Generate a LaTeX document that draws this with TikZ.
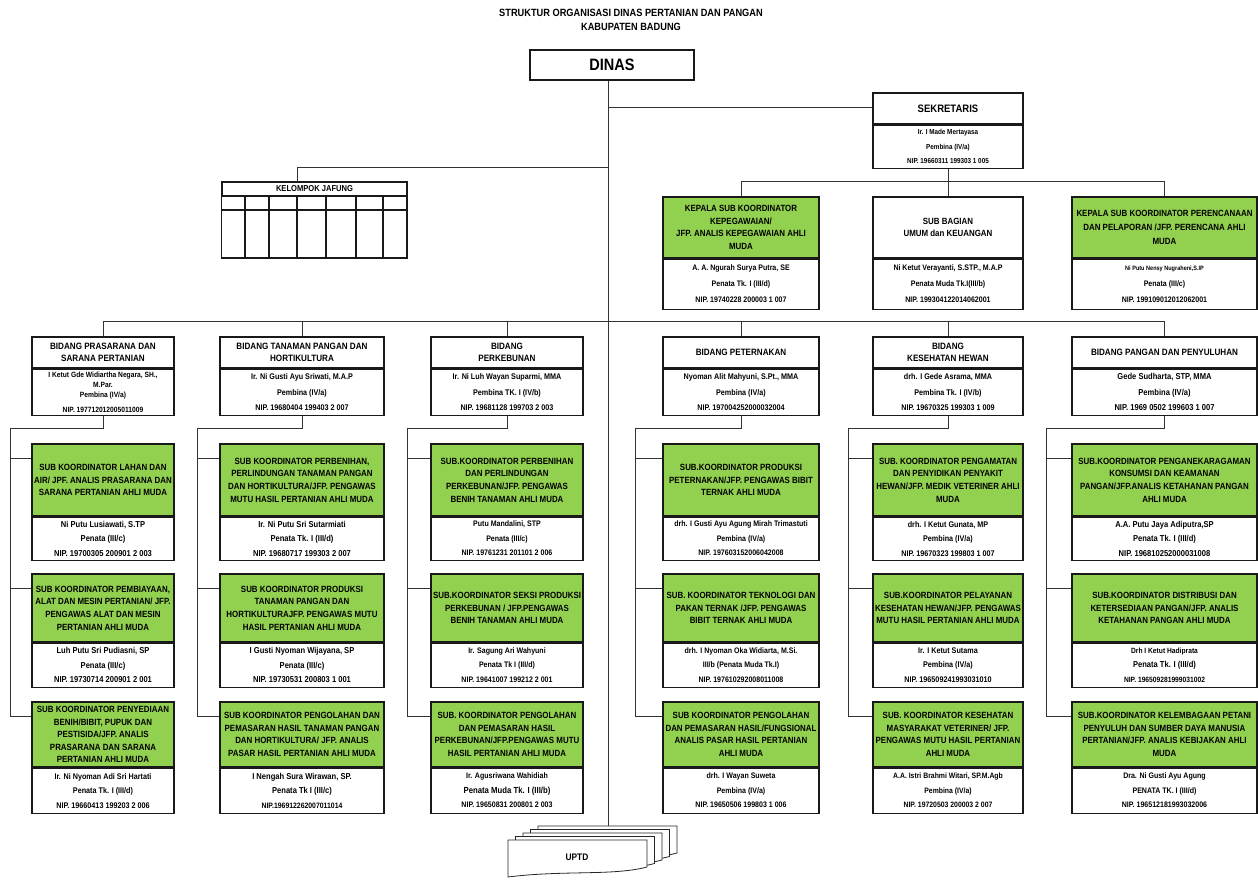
\documentclass[tikz,border=0pt]{standalone}
\usepackage{fontspec}
\setmainfont{Liberation Sans}[FakeStretch=0.88]
\usetikzlibrary{calc}
\definecolor{jgreen}{RGB}{146,208,80}
\newcommand\fz[2]{\fontsize{#1}{#2}\selectfont\bfseries}
\begin{document}
\begin{tikzpicture}[x=1pt,y=-1pt,
  conn/.style={draw=black!80,line width=1pt},
  frame/.style={draw=black!90,line width=1.1pt},
  box/.style={draw=black!90,line width=1.1pt,inner sep=0pt,align=center},
  gbox/.style={box,fill=jgreen,font=\fz{9}{12.6}},
  wbox/.style={box,fill=white,anchor=north,font=\fz{8.6}{14.5}},
  cw1/.style={minimum width=142pt},cw2/.style={minimum width=164pt},
  cw3/.style={minimum width=152pt},cw4/.style={minimum width=156pt},
  cw5/.style={minimum width=150pt},cw6/.style={minimum width=185pt},
  rh1/.style={minimum height=72pt},rb1/.style={minimum height=43pt},
  rh2/.style={minimum height=68pt},rb2/.style={minimum height=44pt},
  rh3/.style={minimum height=65pt},rb3/.style={minimum height=45pt},
  bh/.style={box,fill=white,minimum height=31pt,font=\fz{9.2}{12}},
  bb/.style={wbox,minimum height=46pt,font=\fz{8.2}{15.5}}
]
\useasboundingbox (0,0) rectangle (1258,879);

% title
\node[font=\fz{10.5}{14}] (t1) at (631,13) {STRUKTUR ORGANISASI DINAS PERTANIAN DAN PANGAN};
\node[font=\fz{10.5}{14}] (t2) at (631,27) {KABUPATEN BADUNG};

% dinas
\node[box,minimum width=164pt,minimum height=30pt,font=\fz{16.5}{18}] (dinas) at (612,65) {DINAS};

% trunk coordinates
\coordinate (uptdtop) at (608,826);
\coordinate (j1) at (608,107);
\coordinate (j2) at (608,167);
\coordinate (kjtop) at (297,182);

% sekretaris
\node[box,fill=white,minimum width=150pt,minimum height=31pt,font=\fz{10.8}{13}] (skh) at (948,108.5) {SEKRETARIS};
\node[wbox,minimum width=150pt,minimum height=43pt,font=\fz{7.2}{14.5}] (skb) at (skh.south) {Ir. I Made Mertayasa\\Pembina (IV/a)\\NIP. 19660311 199303 1 005};

% kelompok jafung
\node[box,minimum width=185pt,minimum height=14pt,font=\fz{8.6}{10}] (kj) at (314.5,189) {KELOMPOK JAFUNG};
\draw[frame] (kj.south west) rectangle (407,258);
\draw[frame] (222,210) -- (407,210);
\foreach \x in {245,269,297,326,356,383} \draw[frame] (\x,196) -- (\x,258);

% row A
\node[gbox,cw4,minimum height=61pt] (ah1) at (741,227.5) {KEPALA SUB KOORDINATOR\\KEPEGAWAIAN/\\JFP. ANALIS KEPEGAWAIAN AHLI\\MUDA};
\node[wbox,cw4,minimum height=50pt,font=\fz{8}{16}] (ab1) at (ah1.south) {A. A. Ngurah Surya Putra, SE\\Penata Tk. I (III/d)\\NIP. 19740228 200003 1 007};
\node[box,fill=white,cw5,minimum height=61pt,font=\fz{9}{12.6}] (ah2) at (948,227.5) {SUB BAGIAN\\UMUM dan KEUANGAN};
\node[wbox,cw5,minimum height=50pt,font=\fz{8}{16}] (ab2) at (ah2.south) {Ni Ketut Verayanti, S.STP., M.A.P\\Penata Muda Tk.I(III/b)\\NIP. 199304122014062001};
\node[gbox,cw6,minimum height=61pt,font=\fz{9}{14}] (ah3) at (1164.5,227.5) {KEPALA SUB KOORDINATOR PERENCANAAN\\DAN PELAPORAN /JFP. PERENCANA AHLI\\MUDA};
\node[wbox,cw6,minimum height=50pt,font=\fz{8}{16}] (ab3) at (ah3.south) {{\fontsize{6.3}{16}\selectfont Ni Putu Nensy Nugraheni,S.IP}\\Penata (III/c)\\NIP. 199109012012062001};

% bidang
\node[bh,cw1] (bh1) at (103,352.5) {BIDANG PRASARANA DAN\\SARANA PERTANIAN};
\node[bb,cw1,font=\fz{7.6}{10}] (bb1) at (bh1.south) {I Ketut Gde Widiartha Negara, SH.,\\M.Par.\\Pembina (IV/a)\\[5pt]NIP. 197712012005011009};
\node[bh,cw2] (bh2) at (302,352.5) {BIDANG TANAMAN PANGAN DAN\\HORTIKULTURA};
\node[bb,cw2] (bb2) at (bh2.south) {Ir. Ni Gusti Ayu Sriwati, M.A.P\\Pembina (IV/a)\\NIP. 19680404 199403 2 007};
\node[bh,cw3] (bh3) at (507,352.5) {BIDANG\\PERKEBUNAN};
\node[bb,cw3] (bb3) at (bh3.south) {Ir. Ni Luh Wayan Suparmi, MMA\\Pembina TK. I (IV/b)\\NIP. 19681128 199703 2 003};
\node[bh,cw4] (bh4) at (741,352.5) {BIDANG PETERNAKAN};
\node[bb,cw4] (bb4) at (bh4.south) {Nyoman Alit Mahyuni, S.Pt., MMA\\Pembina (IV/a)\\NIP. 197004252000032004};
\node[bh,cw5] (bh5) at (948,352.5) {BIDANG\\KESEHATAN HEWAN};
\node[bb,cw5] (bb5) at (bh5.south) {drh. I Gede Asrama, MMA\\Pembina Tk. I (IV/b)\\NIP. 19670325 199303 1 009};
\node[bh,cw6] (bh6) at (1164.5,352.5) {BIDANG PANGAN DAN PENYULUHAN};
\node[bb,cw6,font=\fz{8.6}{15.5}] (bb6) at (bh6.south) {Gede Sudharta, STP, MMA\\Pembina (IV/a)\\NIP. 1969 0502 199603 1 007};

% column 1
\node[gbox,cw1,rh1] (sh11) at (103,480) {SUB KOORDINATOR LAHAN DAN\\AIR/ JPF. ANALIS PRASARANA DAN\\SARANA PERTANIAN AHLI MUDA};
\node[wbox,cw1,rb1] (sb11) at (sh11.south) {Ni Putu Lusiawati, S.TP\\Penata (III/c)\\NIP. 19700305 200901 2 003};
\node[gbox,cw1,rh2] (sh12) at (103,608) {SUB KOORDINATOR PEMBIAYAAN,\\ALAT DAN MESIN PERTANIAN/ JFP.\\PENGAWAS ALAT DAN MESIN\\PERTANIAN AHLI MUDA};
\node[wbox,cw1,rb2] (sb12) at (sh12.south) {Luh Putu Sri Pudiasni, SP\\Penata (III/c)\\NIP. 19730714 200901 2 001};
\node[gbox,cw1,rh3] (sh13) at (103,734.5) {SUB KOORDINATOR PENYEDIAAN\\BENIH/BIBIT, PUPUK DAN\\PESTISIDA/JFP. ANALIS\\PRASARANA DAN SARANA\\PERTANIAN AHLI MUDA};
\node[wbox,cw1,rb3,font=\fz{8.2}{14.5}] (sb13) at (sh13.south) {Ir. Ni Nyoman Adi Sri Hartati\\Penata Tk. I (III/d)\\NIP. 19660413 199203 2 006};

% column 2
\node[gbox,cw2,rh1] (sh21) at (302,480) {SUB KOORDINATOR PERBENIHAN,\\PERLINDUNGAN TANAMAN PANGAN\\DAN HORTIKULTURA/JFP. PENGAWAS\\MUTU HASIL PERTANIAN AHLI MUDA};
\node[wbox,cw2,rb1] (sb21) at (sh21.south) {Ir. Ni Putu Sri Sutarmiati\\Penata Tk. I (III/d)\\NIP. 19680717 199303 2 007};
\node[gbox,cw2,rh2] (sh22) at (302,608) {SUB KOORDINATOR PRODUKSI\\TANAMAN PANGAN DAN\\HORTIKULTURAJFP. PENGAWAS MUTU\\HASIL PERTANIAN AHLI MUDA};
\node[wbox,cw2,rb2] (sb22) at (sh22.south) {I Gusti Nyoman Wijayana, SP\\Penata (III/c)\\NIP. 19730531 200803 1 001};
\node[gbox,cw2,rh3] (sh23) at (302,734.5) {SUB KOORDINATOR PENGOLAHAN DAN\\PEMASARAN HASIL TANAMAN PANGAN\\DAN HORTIKULTURA/ JFP. ANALIS\\PASAR HASIL PERTANIAN AHLI MUDA};
\node[wbox,cw2,rb3] (sb23) at (sh23.south) {I Nengah Sura Wirawan, SP.\\Penata Tk I (III/c)\\{\fontsize{7.8}{14.5}\selectfont NIP.196912262007011014}};

% column 3
\node[gbox,cw3,rh1] (sh31) at (507,480) {SUB.KOORDINATOR PERBENIHAN\\DAN PERLINDUNGAN\\PERKEBUNAN/JFP. PENGAWAS\\BENIH TANAMAN AHLI MUDA};
\node[wbox,cw3,rb1,font=\fz{8}{14.5}] (sb31) at (sh31.south) {Putu Mandalini, STP\\Penata (III/c)\\NIP. 19761231 201101 2 006};
\node[gbox,cw3,rh2] (sh32) at (507,608) {SUB.KOORDINATOR SEKSI PRODUKSI\\PERKEBUNAN / JFP.PENGAWAS\\BENIH TANAMAN AHLI MUDA};
\node[wbox,cw3,rb2,font=\fz{8}{14.5}] (sb32) at (sh32.south) {Ir. Sagung Ari Wahyuni\\Penata Tk I (III/d)\\NIP. 19641007 199212 2 001};
\node[gbox,cw3,rh3] (sh33) at (507,734.5) {SUB. KOORDINATOR PENGOLAHAN\\DAN PEMASARAN HASIL\\PERKEBUNAN/JFP.PENGAWAS MUTU\\HASIL PERTANIAN AHLI MUDA};
\node[wbox,cw3,rb3,font=\fz{8}{14.5}] (sb33) at (sh33.south) {Ir. Agusriwana Wahidiah\\{\fontsize{8.8}{14.5}\selectfont Penata Muda Tk. I (III/b)}\\NIP. 19650831 200801 2 003};

% column 4
\node[gbox,cw4,rh1] (sh41) at (741,480) {SUB.KOORDINATOR PRODUKSI\\PETERNAKAN/JFP. PENGAWAS BIBIT\\TERNAK AHLI MUDA};
\node[wbox,cw4,rb1,font=\fz{8}{14.5}] (sb41) at (sh41.south) {drh. I Gusti Ayu Agung Mirah Trimastuti\\Pembina (IV/a)\\NIP. 197603152006042008};
\node[gbox,cw4,rh2] (sh42) at (741,608) {SUB. KOORDINATOR TEKNOLOGI DAN\\PAKAN TERNAK /JFP. PENGAWAS\\BIBIT TERNAK AHLI MUDA};
\node[wbox,cw4,rb2,font=\fz{8}{14.5}] (sb42) at (sh42.south) {drh. I Nyoman Oka Widiarta, M.Si.\\III/b (Penata Muda Tk.I)\\NIP. 197610292008011008};
\node[gbox,cw4,rh3] (sh43) at (741,734.5) {SUB KOORDINATOR PENGOLAHAN\\DAN PEMASARAN HASIL/FUNGSIONAL\\ANALIS PASAR HASIL PERTANIAN\\AHLI MUDA};
\node[wbox,cw4,rb3,font=\fz{8}{14.5}] (sb43) at (sh43.south) {drh. I Wayan Suweta\\Pembina (IV/a)\\NIP. 19650506 199803 1 006};

% column 5
\node[gbox,cw5,rh1] (sh51) at (948,480) {SUB. KOORDINATOR PENGAMATAN\\DAN PENYIDIKAN PENYAKIT\\HEWAN/JFP. MEDIK VETERINER AHLI\\MUDA};
\node[wbox,cw5,rb1,font=\fz{8.2}{14.5}] (sb51) at (sh51.south) {drh. I Ketut Gunata, MP\\Pembina (IV/a)\\NIP. 19670323 199803 1 007};
\node[gbox,cw5,rh2] (sh52) at (948,608) {SUB.KOORDINATOR PELAYANAN\\KESEHATAN HEWAN/JFP. PENGAWAS\\MUTU HASIL PERTANIAN AHLI MUDA};
\node[wbox,cw5,rb2,font=\fz{8.2}{14.5}] (sb52) at (sh52.south) {Ir. I Ketut Sutama\\Pembina (IV/a)\\NIP. 196509241993031010};
\node[gbox,cw5,rh3] (sh53) at (948,734.5) {SUB. KOORDINATOR KESEHATAN\\MASYARAKAT VETERINER/ JFP.\\PENGAWAS MUTU HASIL PERTANIAN\\AHLI MUDA};
\node[wbox,cw5,rb3,font=\fz{7.8}{14.5}] (sb53) at (sh53.south) {A.A. Istri Brahmi Witari, SP.M.Agb\\Pembina (IV/a)\\NIP. 19720503 200003 2 007};

% column 6
\node[gbox,cw6,rh1] (sh61) at (1164.5,480) {SUB.KOORDINATOR PENGANEKARAGAMAN\\KONSUMSI DAN KEAMANAN\\PANGAN/JFP.ANALIS KETAHANAN PANGAN\\AHLI MUDA};
\node[wbox,cw6,rb1] (sb61) at (sh61.south) {A.A. Putu Jaya Adiputra,SP\\Penata Tk. I (III/d)\\NIP. 196810252000031008};
\node[gbox,cw6,rh2] (sh62) at (1164.5,608) {SUB.KOORDINATOR DISTRIBUSI DAN\\KETERSEDIAAN PANGAN/JFP. ANALIS\\KETAHANAN PANGAN AHLI MUDA};
\node[wbox,cw6,rb2,font=\fz{7.6}{14.5}] (sb62) at (sh62.south) {Drh I Ketut Hadiprata\\{\fontsize{8.6}{14.5}\selectfont Penata Tk. I (III/d)}\\NIP. 196509281999031002};
\node[gbox,cw6,rh3] (sh63) at (1164.5,734.5) {SUB.KOORDINATOR KELEMBAGAAN PETANI\\PENYULUH DAN SUMBER DAYA MANUSIA\\PERTANIAN/JFP. ANALIS KEBIJAKAN AHLI\\MUDA};
\node[wbox,cw6,rb3,font=\fz{8}{14.5}] (sb63) at (sh63.south) {Dra. Ni Gusti Ayu Agung\\PENATA TK. I (III/d)\\NIP. 196512181993032006};

% UPTD stack
\foreach \i in {4,3,2,1,0} {
  \begin{scope}[shift={(508+7.5*\i,840-3.5*\i)}]
    \filldraw[fill=white,draw=black!85,line width=0.8pt] (0,0) -- (139,0) -- (139,27) .. controls (105,36) and (55,30) .. (0,37) -- cycle;
  \end{scope}
}
\node[font=\fz{9.5}{11}] (uptd) at (577,857) {UPTD};

% connectors
\draw[conn] (dinas.south -| uptdtop) -- (uptdtop);
\draw[conn] (j1) -- (skh.west |- j1);
\draw[conn] (j2) -| (kjtop);
\draw[conn] (skb.south) -- (ah2.north);
\draw[conn] (ah1.north) -- ++(0,-15) -| (ah3.north);
\draw[conn] (bh1.north) -- ++(0,-15) -| (bh6.north);
\foreach \c in {2,...,5} \draw[conn] (bh\c.north) -- ++(0,-15);
\foreach \c/\xv in {1/10,2/197,3/407,4/635,5/848,6/1046} {
  \coordinate (v\c) at (\xv,428);
  \draw[conn] (bb\c.south) |- (v\c);
  \draw[conn] (v\c) |- ($(sh\c3.north west)+(0,15)$);
  \draw[conn] ($(sh\c1.north west)+(0,15)$) -| (v\c);
  \draw[conn] ($(sh\c2.north west)+(0,15)$) -| (v\c);
}
\end{tikzpicture}
\end{document}
